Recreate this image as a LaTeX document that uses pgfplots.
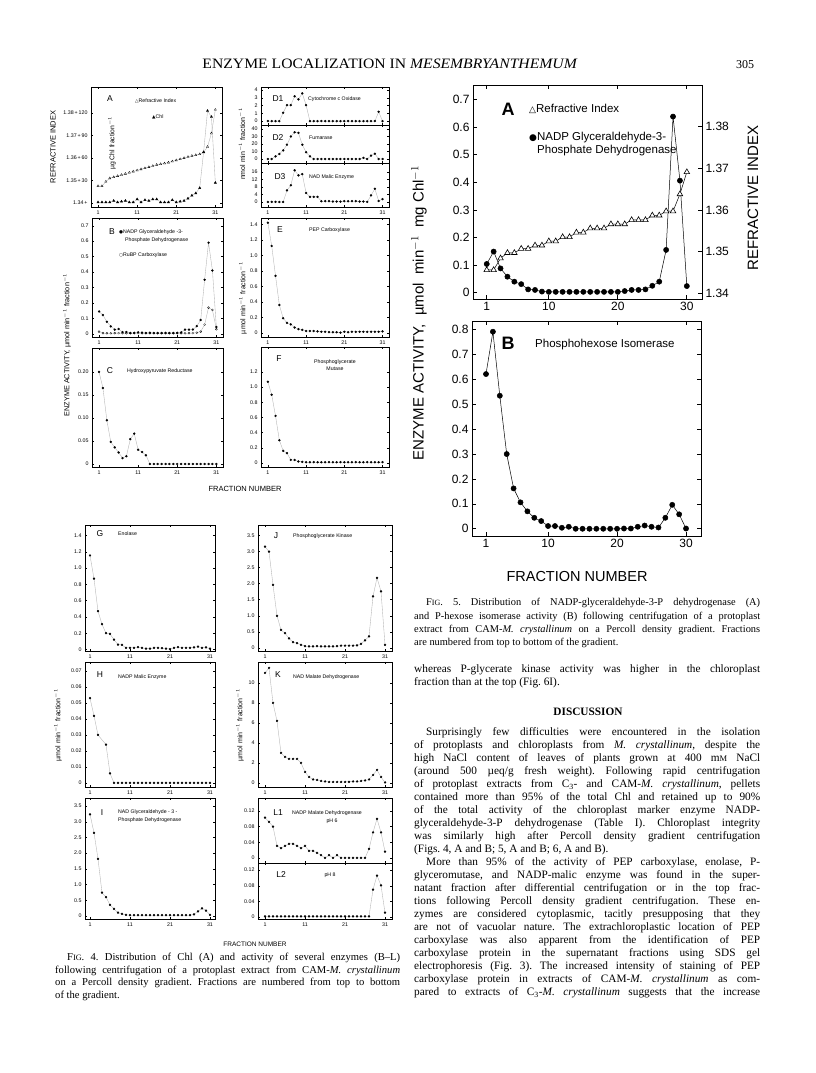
\documentclass[border=0pt]{standalone}
\usepackage{fontspec}
\setmainfont{Liberation Serif}
\setsansfont{Liberation Sans}
\newfontfamily\sym{DejaVu Sans}
\usepackage{graphicx}
\usepackage{pgfplots}
\pgfplotsset{compat=1.18}
\frenchspacing
\newcommand{\fs}[1]{\fontsize{#1}{#1}\selectfont}
\newlength{\tw}
\newcommand{\TL}[1]{\makebox[\tw][s]{#1}\par}
\newcommand{\TE}[1]{\makebox[\tw][l]{#1}\par}
\pgfplotsset{
 f4/.style={scale only axis, axis line style={line width=0.5pt}, tick align=inside,
   major tick length=2pt, tick style={line width=0.4pt,black},
   xtick={1,11,21,31}, xticklabels={1,11,21,31}, scaled ticks=false,
   ticklabel style={font=\fs{5.3}\sffamily}, /pgf/number format/assume math mode=true,
   xmin=-0.8, xmax=32.7, clip=false},
 dot/.style={gray!60, line width=0.35pt, mark=*, mark size=1.0pt, mark options={black, fill=black, solid}},
 odot/.style={gray!60, line width=0.35pt, mark=*, mark size=1.0pt, mark options={black, fill=white, line width=0.3pt, solid}},
 tri/.style={gray!60, line width=0.35pt, mark=triangle*, mark size=1.3pt, mark options={black, fill=black, solid}},
 otri/.style={gray!60, line width=0.35pt, mark=triangle*, mark size=1.3pt, mark options={black, fill=white, line width=0.3pt, solid}},
 f5/.style={scale only axis, axis line style={line width=0.8pt}, tick align=inside,
   major tick length=4pt, tick style={line width=0.7pt,black}, scaled ticks=false,
   xtick={1,10,20,30}, xticklabels={1,10,20,30},
   ticklabel style={font=\fs{12}\sffamily}, /pgf/number format/assume math mode=true, clip=false},
}
\begin{document}
\begin{tikzpicture}[x=1pt,y=1pt]
\fill[white] (0,0) rectangle (816,1073);
\path[use as bounding box] (0,0) rectangle (816,1073);

% ---------------- header
\node[anchor=base, inner sep=0] at (390,1004) {\resizebox{375pt}{9.5pt}{\fs{13}ENZYME LOCALIZATION IN \textit{MESEMBRYANTHEMUM}}};
\node[anchor=base, inner sep=0] at (745,1004) {\fs{12}305};

% ================= FIG 4 =================
% ---- A
\begin{axis}[f4, at={(91pt,866pt)}, anchor=south west, width=131pt, height=120pt,
  ymin=1.3382, ymax=1.3916, ytick={1.34,1.35,1.36,1.37,1.38},
  yticklabels={1.34\,+,1.35\,+\,30,1.36\,+\,60,1.37\,+\,90,1.38\,+\,120}]
\addplot[otri] coordinates {(1,1.3475)(2,1.3475)(3,1.3495)(4,1.3510)(5,1.3515)(6,1.3520)(7,1.3525)(8,1.3530)(9,1.3535)(10,1.3540)(11,1.3545)(12,1.3550)(13,1.3555)(14,1.3560)(15,1.3565)(16,1.3570)(17,1.3573)(18,1.3576)(19,1.3580)(20,1.3585)(21,1.3590)(22,1.3595)(23,1.3600)(24,1.3605)(25,1.3610)(26,1.3613)(27,1.3617)(28,1.3625)(29,1.3650)(30,1.3710)(31,1.3815)};
\end{axis}
\begin{axis}[f4, at={(91pt,866pt)}, anchor=south west, width=131pt, height=120pt,
  ymin=-5.4, ymax=154.8, hide axis]
\addplot[tri] coordinates {(1,1)(2,1)(3,1)(4,1)(5,3)(6,1)(7,2)(8,3)(9,1)(10,1)(11,5)(12,1)(13,4)(14,3)(15,5)(16,5)(17,1)(18,1)(19,1)(20,4)(21,1)(22,2)(23,3)(24,6)(25,10)(26,13)(27,20)(28,68)(29,123)(30,115)(31,27)};
\end{axis}
\node[inner sep=0, font=\fs{8.5}\sffamily] at (110,974) {A};
\node[anchor=west, inner sep=0, font=\fs{5.2}\sffamily] at (135,972) {{\sym\fs{4.5}△}Refractive Index};
\node[anchor=west, inner sep=0, font=\fs{5.2}\sffamily] at (152,956) {{\sym\fs{4.5}▲}Chl};
\node[rotate=90, inner sep=0, font=\fs{7.5}\sffamily] at (53,926) {REFRACTIVE INDEX};
\node[rotate=90, inner sep=0, font=\fs{6.8}\sffamily] at (112,930) {µg Chl fraction$^{-1}$};

% ---- D1 D2 D3
\begin{axis}[f4, at={(261pt,948pt)}, anchor=south west, width=128pt, height=38pt,
  ymin=-0.5, ymax=4.4, ytick={0,1,2,3,4}, yticklabels={0,1,2,3,4}, xticklabels={}]
\addplot[dot] coordinates {(1,0)(2,0)(3,0)(4,0)(5,1.07)(6,2.06)(7,2.06)(8,3.2)(9,2.8)(10,3.57)(11,2.06)(12,0)(13,0)(14,0)(15,0)(16,0)(17,0)(18,0)(19,0)(20,0)(21,0)(22,0)(23,0)(24,0)(25,0)(26,0)(27,0)(28,0)(29,0)(30,1.2)(31,0)};
\end{axis}
\begin{axis}[f4, at={(261pt,910pt)}, anchor=south west, width=128pt, height=38pt,
  ymin=-5.3, ymax=45.3, ytick={0,10,20,30,40}, yticklabels={0,10,20,30,40}, xticklabels={}]
\addplot[dot] coordinates {(1,0)(2,0)(3,3.5)(4,6.7)(5,11.5)(6,19)(7,30)(8,35.5)(9,34.7)(10,19)(11,9)(12,3.5)(13,0)(14,0)(15,0)(16,0)(17,0)(18,0)(19,0)(20,0)(21,0)(22,0)(23,0)(24,0)(25,0)(26,1.5)(27,0)(28,4.5)(29,7)(30,0)(31,0)};
\end{axis}
\begin{axis}[f4, at={(261pt,866pt)}, anchor=south west, width=128pt, height=44pt,
  ymin=-2.7, ymax=20.8, ytick={0,4,8,12,16}, yticklabels={0,4,8,12,16}]
\addplot[dot] coordinates {(1,0)(2,0)(3,0)(4,0)(5,0)(6,6.2)(7,8.9)(8,16.9)(9,14.2)(10,14.8)(11,4.8)(12,2.7)(13,2.7)(14,2.7)(15,0.4)(16,0.4)(17,0.4)(18,0.2)(19,0.2)(20,0.2)(21,0.4)(22,0.4)(23,0.4)(24,0.4)(25,0.2)(26,0.2)(27,0)(28,3.5)(29,7)(30,0.5)(31,1.5)};
\end{axis}
\node[inner sep=0, font=\fs{8.5}\sffamily] at (278,974) {D1};
\node[anchor=west, inner sep=0, font=\fs{5.2}\sffamily] at (308,974) {Cytochrome c Oxidase};
\node[inner sep=0, font=\fs{8.5}\sffamily] at (278,935) {D2};
\node[anchor=west, inner sep=0, font=\fs{5.2}\sffamily] at (309,935) {Fumarase};
\node[inner sep=0, font=\fs{8.5}\sffamily] at (280,896) {D3};
\node[anchor=west, inner sep=0, font=\fs{5.2}\sffamily] at (309,896) {NAD Malic Enzyme};
\node[rotate=90, inner sep=0, font=\fs{7}\sffamily] at (242,929) {nmol min$^{-1}$ fraction$^{-1}$};

% ---- B
\begin{axis}[f4, at={(92pt,736pt)}, anchor=south west, width=131pt, height=119pt,
  ymin=-0.02, ymax=0.75, ytick={0,0.1,0.2,0.3,0.4,0.5,0.6,0.7}, yticklabels={0,0.1,0.2,0.3,0.4,0.5,0.6,0.7}]
\addplot[odot] coordinates {(1,0.015)(2,0.005)(3,0.004)(4,0.004)(5,0.005)(6,0.005)(7,0.005)(8,0.004)(9,0.004)(10,0.005)(11,0.005)(12,0.004)(13,0.004)(14,0.004)(15,0.004)(16,0.004)(17,0.004)(18,0.004)(19,0.004)(20,0.004)(21,0.005)(22,0.004)(23,0.004)(24,0.005)(25,0.005)(26,0.008)(27,0.015)(28,0.06)(29,0.17)(30,0.155)(31,0.03)};
\addplot[dot] coordinates {(1,0.145)(2,0.122)(3,0.078)(4,0.049)(5,0.028)(6,0.032)(7,0.012)(8,0.012)(9,0.006)(10,0.006)(11,0.01)(12,0.008)(13,0.006)(14,0.008)(15,0.006)(16,0.006)(17,0.006)(18,0.006)(19,0.006)(20,0.006)(21,0.006)(22,0.01)(23,0.028)(24,0.028)(25,0.028)(26,0.05)(27,0.09)(28,0.35)(29,0.59)(30,0.41)(31,0.045)};
\end{axis}
\node[inner sep=0, font=\fs{8.5}\sffamily] at (112,841) {B};
\node[anchor=west, inner sep=0, font=\fs{5.2}\sffamily] at (119,841) {{\sym\fs{4.5}●}NADP Glyceraldehyde -3-};
\node[anchor=west, inner sep=0, font=\fs{5.2}\sffamily] at (125,833) {Phosphate Dehydrogenase};
\node[anchor=west, inner sep=0, font=\fs{5.2}\sffamily] at (119,818) {{\sym\fs{4.5}○}RuBP Carboxylase};

% ---- E
\begin{axis}[f4, at={(261pt,736pt)}, anchor=south west, width=128pt, height=119pt,
  ymin=-0.052, ymax=1.48, ytick={0,0.2,0.4,0.6,0.8,1.0,1.2,1.4}, yticklabels={0,0.2,0.4,0.6,0.8,1.0,1.2,1.4}]
\addplot[dot] coordinates {(1,1.42)(2,1.12)(3,0.735)(4,0.36)(5,0.19)(6,0.13)(7,0.11)(8,0.07)(9,0.05)(10,0.04)(11,0.025)(12,0.025)(13,0.025)(14,0.02)(15,0.015)(16,0.015)(17,0.01)(18,0.01)(19,0.01)(20,0.005)(21,0.015)(22,0.01)(23,0.015)(24,0.015)(25,0.015)(26,0.015)(27,0.015)(28,0.015)(29,0.015)(30,0.015)(31,0.02)};
\end{axis}
\node[inner sep=0, font=\fs{8.5}\sffamily] at (280,843) {E};
\node[anchor=west, inner sep=0, font=\fs{5.2}\sffamily] at (309,843) {PEP Carboxylase};

% ---- C
\begin{axis}[f4, at={(92pt,606pt)}, anchor=south west, width=131pt, height=119pt,
  ymin=-0.0065, ymax=0.252, ytick={0,0.05,0.10,0.15,0.20}, yticklabels={0,0.05,0.10,0.15,0.20}]
\addplot[dot] coordinates {(1,0.20)(2,0.165)(3,0.095)(4,0.048)(5,0.036)(6,0.025)(7,0.013)(8,0.017)(9,0.054)(10,0.066)(11,0.031)(12,0.026)(13,0.019)(14,0)(15,0)(16,0)(17,0)(18,0)(19,0)(20,0)(21,0)(22,0)(23,0)(24,0)(25,0)(26,0)(27,0)(28,0)(29,0)(30,0)(31,0)};
\end{axis}
\node[inner sep=0, font=\fs{8.5}\sffamily] at (110,702) {C};
\node[anchor=west, inner sep=0, font=\fs{5.2}\sffamily] at (127,702) {Hydroxypyruvate Reductase};
\node[rotate=90, inner sep=0, font=\fs{7.3}\sffamily] at (67,728) {ENZYME ACTIVITY, µmol min$^{-1}$ fraction$^{-1}$};

% ---- F
\begin{axis}[f4, at={(261pt,606pt)}, anchor=south west, width=128pt, height=120pt,
  ymin=-0.053, ymax=1.53, ytick={0,0.2,0.4,0.6,0.8,1.0,1.2}, yticklabels={0,0.2,0.4,0.6,0.8,1.0,1.2}]
\addplot[dot] coordinates {(1,1.07)(2,0.9)(3,0.62)(4,0.30)(5,0.16)(6,0.13)(7,0.04)(8,0.04)(9,0.02)(10,0.015)(11,0.01)(12,0.01)(13,0.01)(14,0.01)(15,0.01)(16,0.01)(17,0.01)(18,0.01)(19,0.01)(20,0.01)(21,0.01)(22,0.01)(23,0.01)(24,0.01)(25,0.01)(26,0.01)(27,0.01)(28,0.01)(29,0.01)(30,0.01)(31,0.01)};
\end{axis}
\node[inner sep=0, font=\fs{8.5}\sffamily] at (279,714) {F};
\node[inner sep=0, font=\fs{5.2}\sffamily] at (335,711) {Phosphoglycerate};
\node[inner sep=0, font=\fs{5.2}\sffamily] at (335,704) {Mutase};
\node[rotate=90, inner sep=0, font=\fs{7}\sffamily] at (243,775) {µmol min$^{-1}$ fraction$^{-1}$};
\node[inner sep=0, font=\fs{7.5}\sffamily] at (245,584) {FRACTION NUMBER};

% ---- G
\begin{axis}[f4, at={(85pt,422pt)}, anchor=south west, width=130pt, height=126pt, xmin=-0.25, xmax=32.25,
  ymin=-0.019, ymax=1.53, ytick={0,0.2,0.4,0.6,0.8,1.0,1.2,1.4}, yticklabels={0,0.2,0.4,0.6,0.8,1.0,1.2,1.4}]
\addplot[dot] coordinates {(1,1.155)(2,0.87)(3,0.47)(4,0.31)(5,0.2)(6,0.19)(7,0.12)(8,0.06)(9,0.055)(10,0.02)(11,0.02)(12,0.02)(13,0.03)(14,0.02)(15,0.01)(16,0.01)(17,0.02)(18,0.02)(19,0.015)(20,0.01)(21,0.005)(22,0.02)(23,0.03)(24,0.02)(25,0.02)(26,0.02)(27,0.025)(28,0.035)(29,0.02)(30,0.025)(31,0.01)};
\end{axis}
\node[inner sep=0, font=\fs{8.5}\sffamily] at (100,539) {G};
\node[anchor=west, inner sep=0, font=\fs{5.2}\sffamily] at (118,539) {Enolase};

% ---- J
\begin{axis}[f4, at={(258pt,422pt)}, anchor=south west, width=134pt, height=126pt, xmin=-0.75, xmax=32.75,
  ymin=-0.093, ymax=3.82, ytick={0,0.5,1.0,1.5,2.0,2.5,3.0,3.5}, yticklabels={0,0.5,1.0,1.5,2.0,2.5,3.0,3.5}]
\addplot[dot] coordinates {(1,3.15)(2,2.99)(3,1.96)(4,1.0)(5,0.56)(6,0.46)(7,0.3)(8,0.18)(9,0.15)(10,0.1)(11,0.06)(12,0.05)(13,0.05)(14,0.06)(15,0.05)(16,0.05)(17,0.05)(18,0.05)(19,0.06)(20,0.07)(21,0.07)(22,0.07)(23,0.07)(24,0.08)(25,0.13)(26,0.24)(27,0.36)(28,1.6)(29,2.18)(30,1.76)(31,0.1)};
\end{axis}
\node[inner sep=0, font=\fs{8.5}\sffamily] at (276,537) {J};
\node[anchor=west, inner sep=0, font=\fs{5.2}\sffamily] at (293,537) {Phosphoglycerate Kinase};

% ---- H
\begin{axis}[f4, at={(85pt,286pt)}, anchor=south west, width=130pt, height=125pt, xmin=-0.25, xmax=32.25,
  ymin=-0.0025, ymax=0.0756, ytick={0,0.01,0.02,0.03,0.04,0.05,0.06,0.07}, yticklabels={0,0.01,0.02,0.03,0.04,0.05,0.06,0.07}]
\addplot[dot] coordinates {(1,0.053)(2,0.042)(3,0.030)(5,0.024)(6,0.006)(7,0)(8,0)(9,0)(10,0)(11,0)(12,0)(13,0)(14,0)(15,0)(16,0)(17,0)(18,0)(19,0)(20,0)(21,0)(22,0)(23,0)(24,0)(25,0)(26,0)(27,0)(28,0)(29,0)(30,0)(31,0)};
\end{axis}
\node[inner sep=0, font=\fs{8.5}\sffamily] at (100,398) {H};
\node[anchor=west, inner sep=0, font=\fs{5.2}\sffamily] at (118,396) {NADP Malic Enzyme};
\node[rotate=90, inner sep=0, font=\fs{7}\sffamily] at (58,348) {µmol min$^{-1}$ fraction$^{-1}$};

% ---- K
\begin{axis}[f4, at={(258pt,286pt)}, anchor=south west, width=134pt, height=125pt, xmin=-0.75, xmax=32.75,
  ymin=-0.4, ymax=12.1, ytick={0,2,4,6,8,10}, yticklabels={0,2,4,6,8,10}]
\addplot[dot] coordinates {(1,11.0)(2,11.5)(3,8.0)(4,6.2)(5,3.0)(6,2.6)(7,2.4)(8,2.4)(9,2.4)(10,2.0)(11,1.1)(12,0.6)(13,0.35)(14,0.3)(15,0.2)(16,0.15)(17,0.1)(18,0.1)(19,0.1)(20,0.1)(21,0.1)(22,0.12)(23,0.15)(24,0.15)(25,0.2)(26,0.25)(27,0.35)(28,0.8)(29,1.3)(30,0.6)(31,0.05)};
\end{axis}
\node[inner sep=0, font=\fs{8.5}\sffamily] at (278,398) {K};
\node[anchor=west, inner sep=0, font=\fs{5.2}\sffamily] at (293,396) {NAD Malate Dehydrogenase};
\node[rotate=90, inner sep=0, font=\fs{7}\sffamily] at (240,348) {µmol min$^{-1}$ fraction$^{-1}$};

% ---- I
\begin{axis}[f4, at={(85pt,154pt)}, anchor=south west, width=130pt, height=121pt, xmin=-0.25, xmax=32.25,
  ymin=-0.1, ymax=3.76, ytick={0,0.5,1.0,1.5,2.0,2.5,3.0,3.5}, yticklabels={0,0.5,1.0,1.5,2.0,2.5,3.0,3.5}]
\addplot[dot] coordinates {(1,3.24)(2,2.65)(3,1.82)(4,0.74)(5,0.6)(6,0.35)(7,0.22)(8,0.1)(9,0.06)(10,0.03)(11,0.02)(12,0.02)(13,0.02)(14,0.02)(15,0.02)(16,0.02)(17,0.02)(18,0.02)(19,0.02)(20,0.02)(21,0.02)(22,0.02)(23,0.02)(24,0.02)(25,0.02)(26,0.02)(27,0.05)(28,0.14)(29,0.24)(30,0.17)(31,0.03)};
\end{axis}
\node[inner sep=0, font=\fs{8.5}\sffamily] at (102,260) {I};
\node[anchor=west, inner sep=0, font=\fs{5.2}\sffamily] at (118,261) {NAD Glyceraldehyde - 3 -};
\node[anchor=west, inner sep=0, font=\fs{5.2}\sffamily] at (118,253) {Phosphate Dehydrogenase};

% ---- L1 L2
\begin{axis}[f4, at={(258pt,210pt)}, anchor=south west, width=134pt, height=65pt, xmin=-0.75, xmax=32.75,
  ymin=-0.0128, ymax=0.153, ytick={0,0.04,0.08,0.12}, yticklabels={0,0.04,0.08,0.12}, xticklabels={}]
\addplot[dot] coordinates {(1,0.103)(2,0.092)(3,0.08)(4,0.031)(5,0.025)(6,0.031)(7,0.036)(8,0.036)(9,0.031)(10,0.025)(11,0.031)(12,0.018)(13,0.018)(14,0.013)(15,0.007)(16,0.0)(17,0.007)(18,0)(19,0.007)(20,0)(21,0)(22,0)(23,0)(24,0)(25,0)(26,0)(27,0.023)(28,0.065)(29,0.1)(30,0.065)(31,0.016)};
\end{axis}
\begin{axis}[f4, at={(258pt,154pt)}, anchor=south west, width=134pt, height=56pt, xmin=-0.75, xmax=32.75,
  ymin=-0.005, ymax=0.138, ytick={0,0.04,0.08,0.12}, yticklabels={0,0.04,0.08,0.12}]
\addplot[dot] coordinates {(1,0.002)(2,0.002)(3,0.002)(4,0.002)(5,0.002)(6,0.002)(7,0.002)(8,0.002)(9,0.002)(10,0.002)(11,0.002)(12,0.002)(13,0.002)(14,0.002)(15,0.002)(16,0.002)(17,0.002)(18,0.002)(19,0.002)(20,0.002)(21,0.002)(22,0.002)(23,0.002)(24,0.002)(25,0.002)(26,0.002)(27,0.002)(28,0.07)(29,0.106)(30,0.081)(31,0.011)};
\end{axis}
\node[inner sep=0, font=\fs{8.5}\sffamily] at (278,260) {L1};
\node[anchor=west, inner sep=0, font=\fs{5.2}\sffamily] at (292,260) {NADP Malate Dehydrogenase};
\node[inner sep=0, font=\fs{5.2}\sffamily] at (332,252) {pH 6};
\node[inner sep=0, font=\fs{8.5}\sffamily] at (281,198) {L2};
\node[inner sep=0, font=\fs{5.2}\sffamily] at (330,198) {pH 8};
\node[inner sep=0, font=\fs{6.5}\sffamily] at (255,129) {FRACTION NUMBER};

% ---- Fig 4 caption
\setlength{\tw}{345pt}
\node[anchor=base west, inner sep=0] at (55,112) {\parbox[t]{\tw}{\fontsize{10.6}{12.5}\selectfont
\TL{\hspace*{12pt}F{\fs{8.2}IG}. 4. Distribution of Chl (A) and activity of several enzymes (B–L)}
\TL{following centrifugation of a protoplast extract from CAM-\textit{M. crystallinum}}
\TL{on a Percoll density gradient. Fractions are numbered from top to bottom}
\TE{of the gradient.}}};

% ================= FIG 5 =================
% ---- A
\begin{axis}[f5, at={(473pt,774pt)}, anchor=south west, width=229pt, height=214pt,
  xmin=-0.99, xmax=32.2, ymin=-0.0228, ymax=0.7525, ytick pos=left,
  ytick={0,0.1,0.2,0.3,0.4,0.5,0.6,0.7}, yticklabels={0,0.1,0.2,0.3,0.4,0.5,0.6,0.7}]
\addplot[black, line width=0.5pt, mark=*, mark size=2.6pt] coordinates {(1,0.104)(2,0.149)(3,0.088)(4,0.058)(5,0.04)(6,0.031)(7,0.012)(8,0.01)(9,0.004)(10,0.003)(11,0.003)(12,0.003)(13,0.003)(14,0.003)(15,0.003)(16,0.003)(17,0.003)(18,0.003)(19,0.003)(20,0.003)(21,0.006)(22,0.01)(23,0.01)(24,0.012)(25,0.025)(26,0.04)(27,0.155)(28,0.638)(29,0.406)(30,0.024)};
\end{axis}
\begin{axis}[f5, at={(473pt,774pt)}, anchor=south west, width=229pt, height=214pt,
  xmin=-0.99, xmax=32.2, ymin=1.33863, ymax=1.3900, axis x line=none, axis y line*=right,
  ytick={1.34,1.35,1.36,1.37,1.38}, yticklabels={1.34,1.35,1.36,1.37,1.38}]
\addplot[black, line width=0.5pt, mark=triangle*, mark size=3.2pt, mark options={fill=white, line width=0.6pt}] coordinates {(1,1.3456)(2,1.3456)(3,1.3484)(4,1.3497)(5,1.3497)(6,1.3507)(7,1.3507)(8,1.3515)(9,1.3515)(10,1.3525)(11,1.3525)(12,1.3535)(13,1.3535)(14,1.3546)(15,1.3546)(16,1.3556)(17,1.3556)(18,1.3556)(19,1.3566)(20,1.3566)(21,1.3566)(22,1.3576)(23,1.3576)(24,1.3576)(25,1.3587)(26,1.3587)(27,1.3597)(28,1.3597)(29,1.3638)(30,1.3691)};
\end{axis}
\node[inner sep=0, font=\fs{18}\sffamily\bfseries] at (508,964) {A};
\node[anchor=west, inner sep=0, font=\fs{11.5}\sffamily] at (529,964) {{\sym\fs{9}△}Refractive Index};
\node[anchor=west, inner sep=0, font=\fs{11.5}\sffamily] at (529,935) {{\sym\fs{9}●}NADP Glyceraldehyde-3-};
\node[anchor=west, inner sep=0, font=\fs{11.5}\sffamily] at (537,922) {Phosphate Dehydrogenase};
\node[rotate=90, inner sep=0, font=\fs{15}\sffamily] at (753,875) {REFRACTIVE INDEX};

% ---- B
\begin{axis}[f5, at={(472pt,537pt)}, anchor=south west, width=229pt, height=215pt,
  xmin=-1.03, xmax=32.17, ymin=-0.029, ymax=0.834,
  ytick={0,0.1,0.2,0.3,0.4,0.5,0.6,0.7,0.8}, yticklabels={0,0.1,0.2,0.3,0.4,0.5,0.6,0.7,0.8}]
\addplot[black, line width=0.5pt, mark=*, mark size=2.6pt] coordinates {(1,0.621)(2,0.791)(3,0.534)(4,0.3)(5,0.162)(6,0.106)(7,0.07)(8,0.044)(9,0.031)(10,0.011)(11,0.011)(12,0.004)(13,0.008)(14,0)(15,0)(16,0)(17,0)(18,0)(19,0)(20,0)(21,0.001)(22,0.001)(23,0.008)(24,0.013)(25,0.008)(26,0.005)(27,0.044)(28,0.096)(29,0.058)(30,0.001)};
\end{axis}
\node[inner sep=0, font=\fs{18}\sffamily\bfseries] at (508,730) {B};
\node[anchor=west, inner sep=0, font=\fs{11.5}\sffamily] at (535,728) {Phosphohexose Isomerase};
\node[rotate=90, inner sep=0, font=\fs{15}\sffamily] at (419,760) {ENZYME ACTIVITY, \ µmol \ min$^{-1}$ \ mg Chl$^{-1}$};
\node[inner sep=0, font=\fs{14.5}\sffamily] at (577,496) {FRACTION NUMBER};

% ---- Fig 5 caption
\setlength{\tw}{346pt}
\node[anchor=base west, inner sep=0] at (414,467) {\parbox[t]{\tw}{\fontsize{10.4}{13.3}\selectfont
\TL{\hspace*{12pt}F{\fs{8}IG}. 5. Distribution of NADP-glyceraldehyde-3-P dehydrogenase (A)}
\TL{and P-hexose isomerase activity (B) following centrifugation of a protoplast}
\TL{extract from CAM-\textit{M. crystallinum} on a Percoll density gradient. Fractions}
\TE{are numbered from top to bottom of the gradient.}}};

% ---- body text
\node[anchor=base west, inner sep=0] at (414,400.5) {\parbox[t]{\tw}{\fontsize{11.3}{13}\selectfont
\TL{whereas P-glycerate kinase activity was higher in the chloroplast}
\TE{fraction than at the top (Fig. 6I).}}};
\node[anchor=base, inner sep=0] at (588,357) {\fontsize{11.3}{13}\selectfont\bfseries DISCUSSION};
\node[anchor=base west, inner sep=0] at (414,337.5) {\parbox[t]{\tw}{\fontsize{11.3}{13}\selectfont
\TL{\hspace*{12pt}Surprisingly few difficulties were encountered in the isolation}
\TL{of protoplasts and chloroplasts from \textit{M. crystallinum}, despite the}
\TL{high NaCl content of leaves of plants grown at 400 m{\fs{8.5}M} NaCl}
\TL{(around 500 µeq/g fresh weight). Following rapid centrifugation}
\TL{of protoplast extracts from C\textsubscript{3}- and CAM-\textit{M. crystallinum}, pellets}
\TL{contained more than 95\% of the total Chl and retained up to 90\%}
\TL{of the total activity of the chloroplast marker enzyme NADP-}
\TL{glyceraldehyde-3-P dehydrogenase (Table I). Chloroplast integrity}
\TL{was similarly high after Percoll density gradient centrifugation}
\TE{(Figs. 4, A and B; 5, A and B; 6, A and B).}
\TL{\hspace*{12pt}More than 95\% of the activity of PEP carboxylase, enolase, P-}
\TL{glyceromutase, and NADP-malic enzyme was found in the super-}
\TL{natant fraction after differential centrifugation or in the top frac-}
\TL{tions following Percoll density gradient centrifugation. These en-}
\TL{zymes are considered cytoplasmic, tacitly presupposing that they}
\TL{are not of vacuolar nature. The extrachloroplastic location of PEP}
\TL{carboxylase was also apparent from the identification of PEP}
\TL{carboxylase protein in the supernatant fractions using SDS gel}
\TL{electrophoresis (Fig. 3). The increased intensity of staining of PEP}
\TL{carboxylase protein in extracts of CAM-\textit{M. crystallinum} as com-}
\TL{pared to extracts of C\textsubscript{3}-\textit{M. crystallinum} suggests that the increase}}};
\end{tikzpicture}
\end{document}
